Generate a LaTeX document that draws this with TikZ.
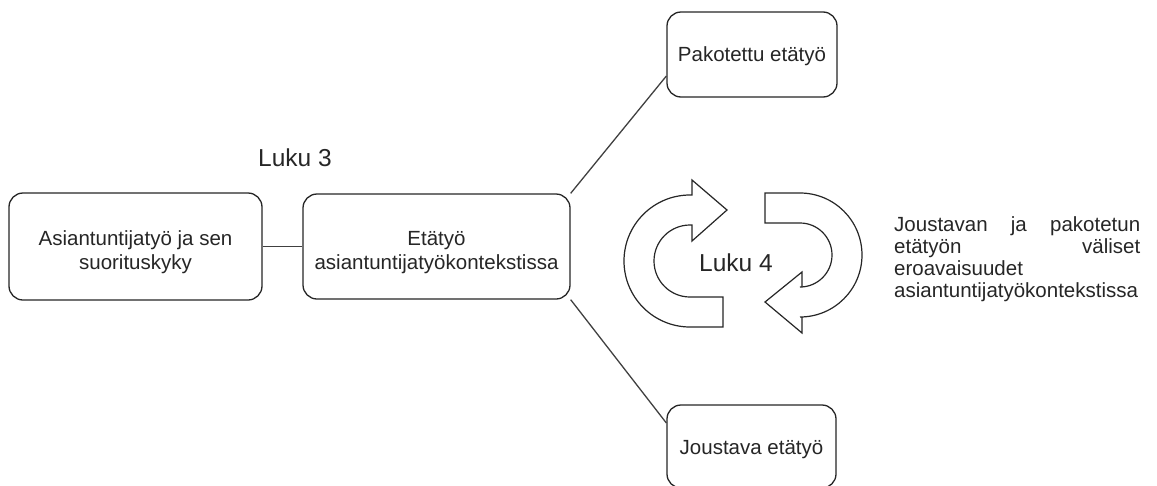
\documentclass[tikz,border=0pt]{standalone}
\usepackage{fontspec}
\setmainfont{Liberation Sans}
\newcommand\lowtxt[2]{\raisebox{-#1}[\height][\depth]{\begin{tabular}{@{}c@{}}#2\end{tabular}}}
\begin{document}
\begin{tikzpicture}[x=1pt,y=-1pt,
  box/.style={draw=black!85, line width=1.3pt, rounded corners=14pt, fill=white, inner sep=0pt, align=center, text=black!85, font=\fontsize{20.5}{24.5}\selectfont},
  conn/.style={draw=black!75, line width=1.3pt},
  lbl/.style={text=black!85, font=\fontsize{24.5}{28}\selectfont, inner sep=0pt},
  cyc/.style={draw=black!85, line width=1.2pt, fill=white, line join=miter}]
\useasboundingbox (0,0) rectangle (1157,485);
\node[box, minimum width=253pt, minimum height=107pt] (A) at (135.5,246.5) {\lowtxt{6pt}{Asiantuntijatyö ja sen\\suorituskyky}};
\node[box, minimum width=267pt, minimum height=105pt] (B) at (436.5,246.5) {\lowtxt{6pt}{Etätyö\\asiantuntijatyökontekstissa}};
\node[box, minimum width=170pt, minimum height=85pt] (P) at (752,54.5) {\lowtxt{2.5pt}{Pakotettu etätyö}};
\node[box, minimum width=169pt, minimum height=83pt] (J) at (751.5,446.5) {\lowtxt{3.5pt}{Joustava etätyö}};
\node[lbl] (L3) at (295,158) {Luku 3};
\draw[conn] (A) -- (B);
\draw[conn] (B.north east) -- ([yshift=-21.5pt]P.west);
\draw[conn] (B.south east) -- ([yshift=23.5pt]J.west);
% circular arrows
\path[cyc] (692,195) -- (690,195) arc[start angle=90, end angle=270, radius=66pt]
  -- (723,327) -- (723,297) -- (690,297) arc[start angle=270, end angle=90, radius=36pt]
  -- (692,225) -- (692,241) -- (727,210) -- (692,180) -- cycle;
\path[cyc] (765,193) -- (800,193) arc[start angle=90, end angle=-90, radius=62pt]
  -- (802,317) -- (802,333) -- (765,302) -- (802,272) -- (802,287) -- (800,287)
  arc[start angle=-90, end angle=90, radius=32pt] -- (765,223) -- cycle;
\node[lbl] (L4) at (736,263) {Luku 4};
\node[anchor=north west, inner sep=0pt, text=black!85, font=\fontsize{20.5}{22}\selectfont] (R) at (894,216)
  {\begin{tabular}{@{}l@{}}\hbox to 246pt{Joustavan\hfill ja\hfill pakotetun}\\\hbox to 246pt{etätyön\hfill väliset}\\eroavaisuudet\\asiantuntijatyökontekstissa\end{tabular}};
\end{tikzpicture}
\end{document}
